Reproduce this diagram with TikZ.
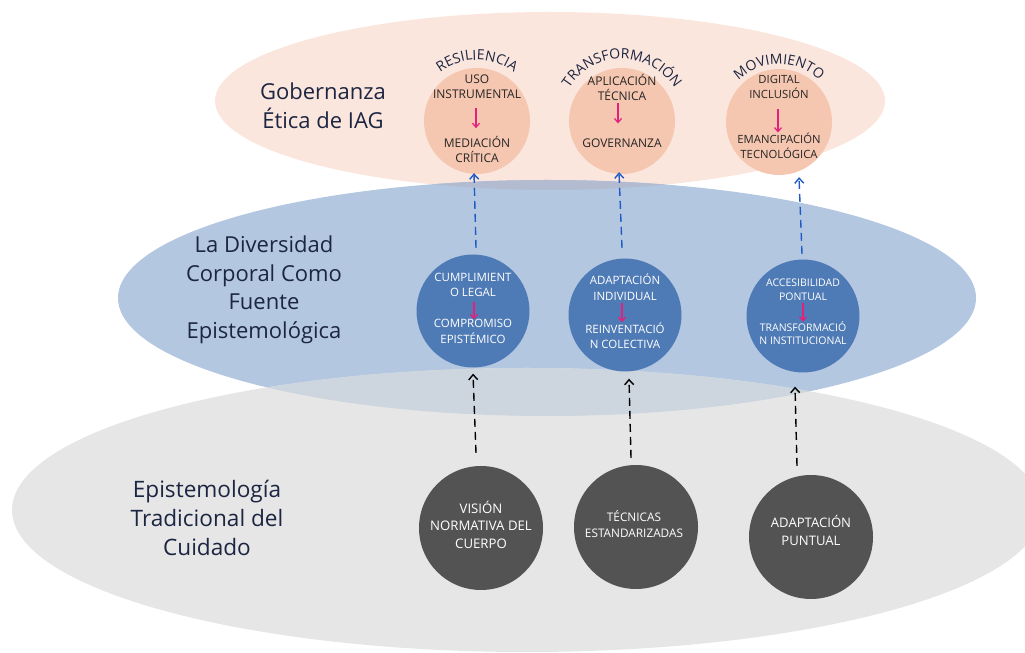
\documentclass[tikz,border=0pt]{standalone}
\usepackage{fontspec}
\setmainfont{Open Sans}
\usetikzlibrary{arrows.meta,decorations.text}

\definecolor{peachzone}{HTML}{FBE6DD}
\definecolor{bluezone}{HTML}{B4C7E1}
\definecolor{grayzone}{HTML}{E6E6E6}
\definecolor{peachblue}{HTML}{B3BBD0}
\definecolor{bluegray}{HTML}{CDD5DF}
\definecolor{peachcirc}{HTML}{F5C6B0}
\definecolor{bluecirc}{HTML}{4E7AB5}
\definecolor{darkcirc}{HTML}{535353}
\definecolor{navytext}{HTML}{1C2541}
\definecolor{pinkarr}{HTML}{E2217C}
\definecolor{bluearr}{HTML}{1F5BC6}

\begin{document}
\begin{tikzpicture}[x=1pt, y=1pt,
    zonelbl/.style={align=center, text=navytext, font=\fontsize{22}{28.5}\selectfont},
    topcirc/.style={circle, fill=peachcirc, minimum size=106pt},
    midcirc/.style={circle, fill=bluecirc, minimum size=113pt},
    basecirc/.style={circle, fill=darkcirc, minimum size=124pt},
    toptext/.style={align=center, inner sep=0pt, text=black!85, font=\fontsize{12}{15}\selectfont},
    midtext/.style={align=center, inner sep=0pt, text=white, font=\fontsize{11.5}{15.5}\selectfont},
    basetext/.style={align=center, inner sep=0pt, text=white, font=\fontsize{13.2}{17.5}\selectfont},
    pinkarrow/.style={-{Straight Barb[length=4pt,width=7pt]}, pinkarr, line width=1.2pt},
    blackdash/.style={-{Straight Barb[length=5pt,width=9pt]}, black, line width=1.4pt, dash pattern=on 8pt off 5pt},
    bluedash/.style={-{Straight Barb[length=5pt,width=9pt]}, bluearr, line width=1.4pt, dash pattern=on 8pt off 5pt},
    arclbl/.style={decorate, decoration={text along path, text align=center,
        text={|\fontsize{14}{14}\selectfont\color{navytext}|#1}}}
]

    \useasboundingbox (0,0) rectangle (1025,653);
    \clip (0,0) rectangle (1025,653);

    % Zones
    \fill[peachzone] (550,552) ellipse [x radius=335, y radius=89];
    \fill[bluezone] (547,355) ellipse [x radius=429, y radius=118];
    \fill[grayzone] (527,143) ellipse [x radius=515, y radius=142];

    % Intersections
    \begin{scope}
        \clip (550,552) ellipse [x radius=335, y radius=89];
        \fill[peachblue] (547,355) ellipse [x radius=429, y radius=118];
    \end{scope}
    \begin{scope}
        \clip (527,143) ellipse [x radius=515, y radius=142];
        \fill[bluegray] (547,355) ellipse [x radius=429, y radius=118];
    \end{scope}

    % Zone labels
    \node[zonelbl] (gob_lbl) at (323,547) {Gobernanza\\Ética de IAG};
    \node[zonelbl] (div_lbl) at (264,363) {La Diversidad\\Corporal Como\\Fuente\\Epistemológica};
    \node[zonelbl, font=\fontsize{22.6}{29}\selectfont] (epi_lbl) at (207,135) {Epistemología\\Tradicional del\\Cuidado};

    % Top circles
    \node[topcirc] (res_circ) at (477,532) {};
    \node[topcirc] (trans_circ) at (622,532) {};
    \node[topcirc] (mov_circ) at (779,531) {};

    \path[arclbl=RESILIENCIA] ([shift={(170:61)}]res_circ.center) arc [start angle=170, end angle=10, radius=61];
    \path[arclbl=TRANSFORMACIÓN] ([shift={(170:62)}]trans_circ.center) arc [start angle=170, end angle=10, radius=62];
    \path[arclbl=MOVIMIENTO] ([shift={(170:58)}]mov_circ.center) arc [start angle=170, end angle=10, radius=58];

    \node[toptext] (res_from) at (477,566.5) {USO\\INSTRUMENTAL};
    \node[toptext] (res_to) at (477,503.5) {MEDIACIÓN\\CRÍTICA};
    \node[toptext] (trans_from) at (622,565.5) {APLICACIÓN\\TÉCNICA};
    \node[toptext] (trans_to) at (622,510) {GOVERNANZA};
    \node[toptext, font=\fontsize{11.3}{15}\selectfont] (mov_from) at (779,566.5) {DIGITAL\\INCLUSIÓN};
    \node[toptext, font=\fontsize{11.3}{15}\selectfont] (mov_to) at (779,507.5) {EMANCIPACIÓN\\TECNOLÓGICA};

    % Middle circles
    \node[midcirc] (cump_circ) at (473,342) {};
    \node[midcirc] (adap_circ) at (625,338) {};
    \node[midcirc] (acc_circ) at (803,337) {};

    \node[midtext] (cump_from) at (473,368) {CUMPLIMIENT\\O LEGAL};
    \node[midtext] (cump_to) at (473,321.5) {COMPROMISO\\EPISTÉMICO};
    \node[midtext] (adap_from) at (625,366) {ADAPTACIÓN\\INDIVIDUAL};
    \node[midtext] (adap_to) at (625,317.5) {REINVENTACIÓ\\N COLECTIVA};
    \node[midtext, font=\fontsize{10.5}{13.5}\selectfont] (acc_from) at (803,363) {ACCESIBILIDAD\\PONTUAL};
    \node[midtext, font=\fontsize{10.5}{12.5}\selectfont] (acc_to) at (803,320) {TRANSFORMACIÓ\\N INSTITUCIONAL};

    % Bottom circles
    \node[basecirc] (vis_circ) at (481,125) {};
    \node[basecirc] (tec_circ) at (636,126) {};
    \node[basecirc] (punt_circ) at (811,116) {};

    \node[basetext] (vis_txt) at (481,128.5) {VISIÓN\\NORMATIVA DEL\\CUERPO};
    \node[basetext, font=\fontsize{11.8}{16.5}\selectfont] (tec_txt) at (634,129) {TÉCNICAS\\ESTANDARIZADAS};
    \node[basetext, font=\fontsize{13.1}{17.5}\selectfont] (punt_txt) at (811,122.5) {ADAPTACIÓN\\PUNTUAL};

    % Inner arrows
    \draw[pinkarrow] ([xshift=-1pt,yshift=-9pt]res_from.south) -- ([xshift=-1pt,yshift=8pt]res_to.north);
    \draw[pinkarrow] ([xshift=-4pt,yshift=-2pt]trans_from.south) -- ([xshift=-4pt,yshift=15pt]trans_to.north);
    \draw[pinkarrow] ([xshift=-1pt,yshift=-11pt]mov_from.south) -- ([xshift=-1pt]mov_to.north);
    \draw[pinkarrow] ([xshift=1pt,yshift=-5pt]cump_from.south) -- ([xshift=1pt]cump_to.north);
    \draw[pinkarrow] ([xshift=-3pt,yshift=-3pt]adap_from.south) -- ([xshift=-3pt]adap_to.north);
    \draw[pinkarrow] ([yshift=-2pt]acc_from.south) -- (acc_to.north);

    % Dashed arrows up
    \draw[blackdash] ([xshift=-5pt,yshift=13pt]vis_circ.north) -- ([yshift=-6pt]cump_circ.south);
    \draw[blackdash] ([xshift=-5pt,yshift=7pt]tec_circ.north) -- ([xshift=4pt,yshift=-7pt]adap_circ.south);
    \draw[blackdash] ([xshift=-14pt,yshift=9pt]punt_circ.north) -- ([xshift=-8pt,yshift=-14pt]acc_circ.south);

    \draw[bluedash] ([xshift=3pt,yshift=6.5pt]cump_circ.north) -- ([xshift=-3pt,yshift=1pt]res_circ.south);
    \draw[bluedash] ([xshift=-3pt,yshift=10.5pt]adap_circ.north) -- ([xshift=-3pt,yshift=2pt]trans_circ.south);
    \draw[bluedash] ([xshift=-1pt,yshift=5.5pt]acc_circ.north) -- ([xshift=20pt,yshift=-2pt]mov_circ.south);

\end{tikzpicture}
\end{document}
